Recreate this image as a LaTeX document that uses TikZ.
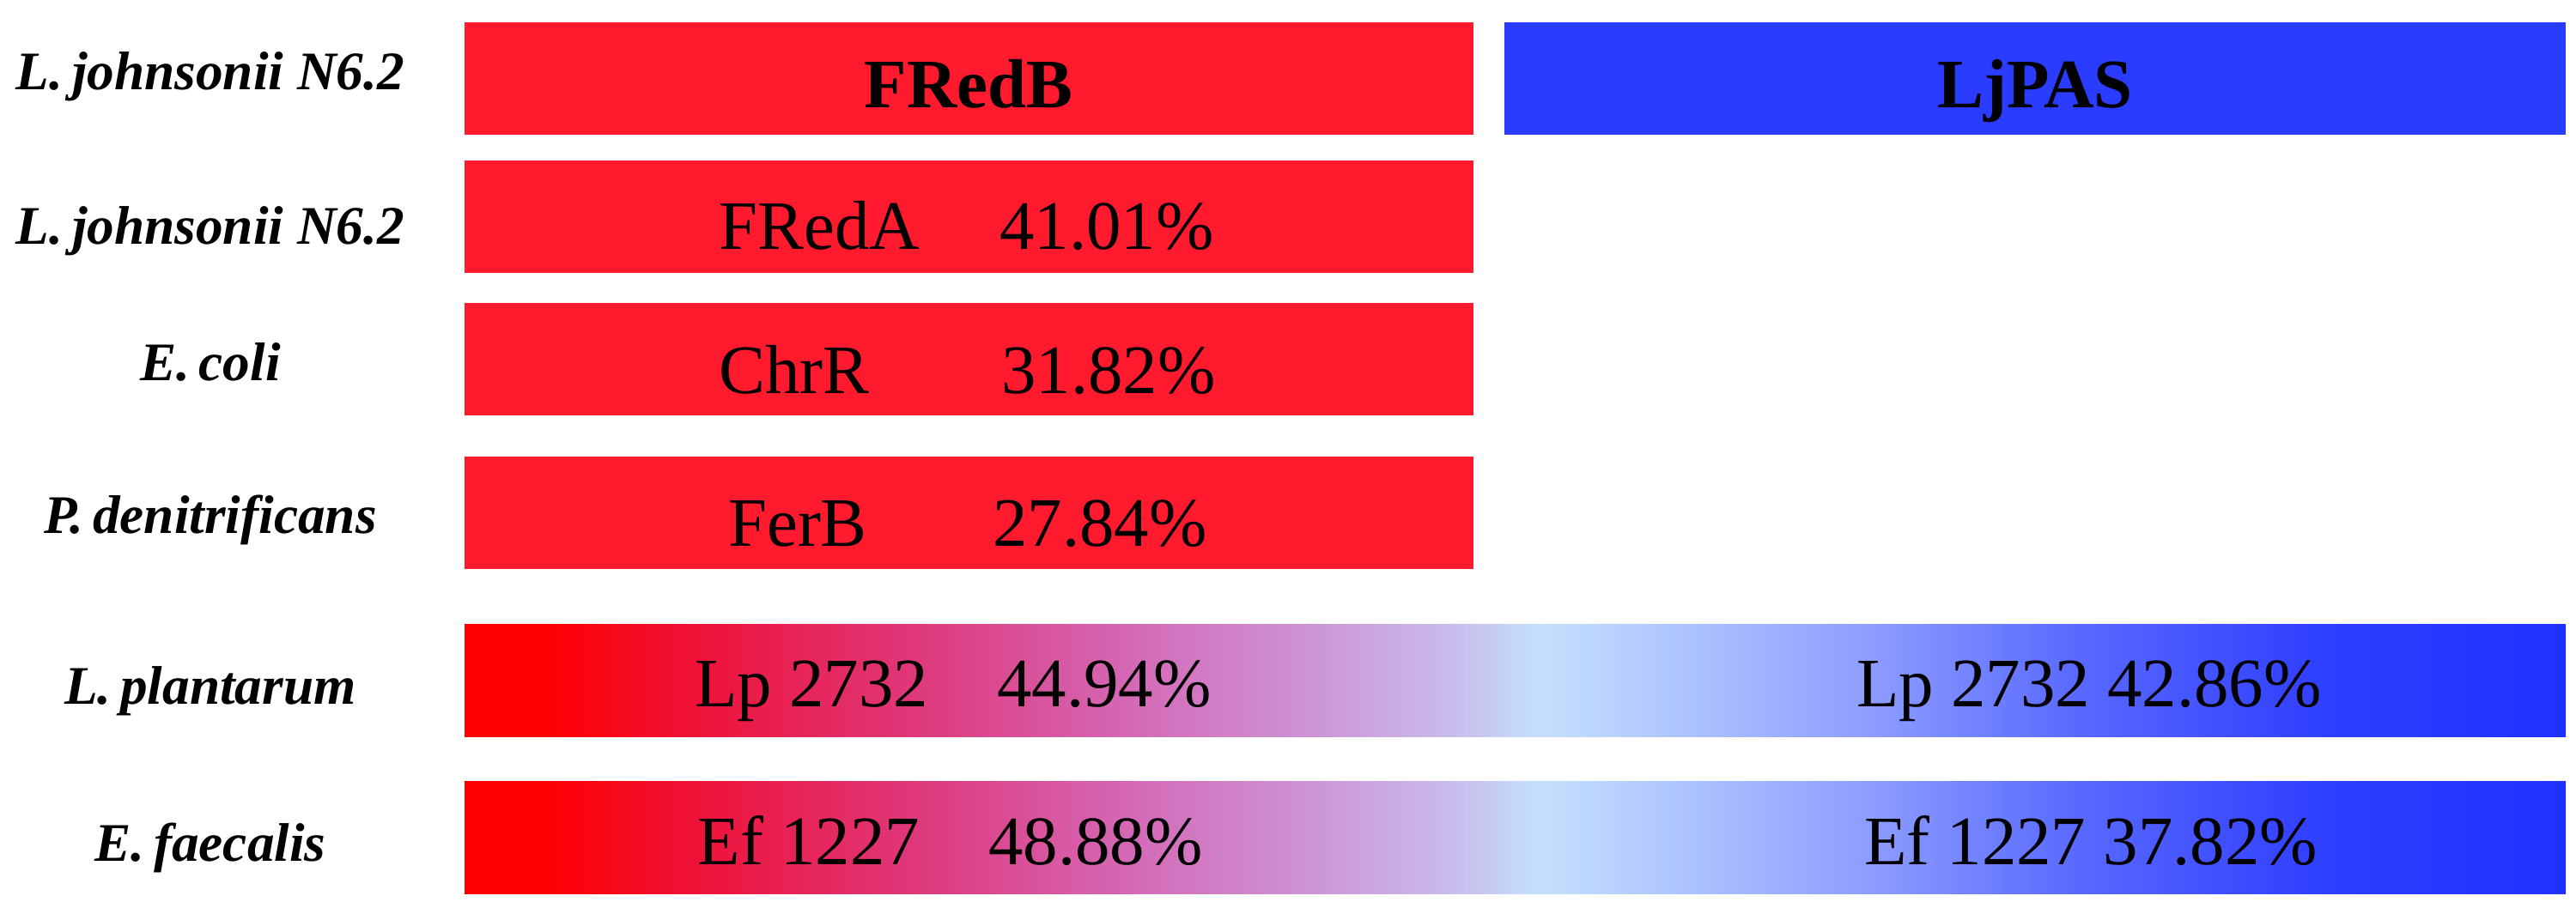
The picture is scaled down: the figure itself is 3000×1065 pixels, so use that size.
\documentclass[tikz,border=0pt]{standalone}
\usepackage{fontspec}
\setmainfont{Liberation Serif}

\definecolor{fredred}{HTML}{FF1A2E}
\definecolor{ljblue}{HTML}{2A3CFF}
\definecolor{gA}{HTML}{FF0000}
\definecolor{gB}{HTML}{EE1238}
\definecolor{gC}{HTML}{DE3A7E}
\definecolor{gD}{HTML}{D46AB8}
\definecolor{gE}{HTML}{CC98D8}
\definecolor{gF}{HTML}{C8BCEC}
\definecolor{gG}{HTML}{C4E0FC}
\definecolor{gH}{HTML}{B0C8FF}
\definecolor{gI}{HTML}{8C9CFF}
\definecolor{gJ}{HTML}{5868FF}
\definecolor{gK}{HTML}{3040FF}
\definecolor{gL}{HTML}{2030FF}

% red -> light blue -> blue, bar mapped onto 25bp..75bp
\pgfdeclarehorizontalshading{redtoblue}{100bp}{color(0bp)=(gA); color(25bp)=(gA);
  color(26.8bp)=(gA); color(30.5bp)=(gB); color(36bp)=(gC); color(41bp)=(gD);
  color(45.5bp)=(gE); color(48.5bp)=(gF); color(50.6bp)=(gG); color(53.5bp)=(gH);
  color(58.5bp)=(gI); color(63.5bp)=(gJ); color(69bp)=(gK); color(75bp)=(gL);
  color(100bp)=(gL)}

\begin{document}
\begin{tikzpicture}[x=0.01cm, y=-0.01cm, inner sep=0pt,
  species/.style={font=\fontsize{18}{20}\selectfont\bfseries\itshape, anchor=base},
  bartext/.style={font=\fontsize{23}{26}\selectfont, anchor=base},
  bartitle/.style={font=\fontsize{23}{26}\selectfont\bfseries, anchor=base}]

\useasboundingbox (0,0) rectangle (3000,1065);

%--- TOP ROW: the two proteins ---
\fill[fredred] (541,26) rectangle (1716,157);
\fill[ljblue] (1752,26) rectangle (2988,157);
\node[bartitle] (fredb) at (1128,126) {FRedB};
\node[bartitle] (ljpas) at (2370,126) {LjPAS};

%--- FRedB homologues ---
\foreach \ytop in {187,353,532}
  \fill[fredred] (541,\ytop) rectangle (1716,\ytop+131);
\node[bartext] (freda) at (954,291) {FRedA};
\node[bartext] (fredapc) at (1289,291) {41.01\%};
\node[bartext] (chrr) at (925,459) {ChrR};
\node[bartext] (chrrpc) at (1291,459) {31.82\%};
\node[bartext] (ferb) at (929,637) {FerB};
\node[bartext] (ferbpc) at (1281,637) {27.84\%};

%--- homologues of both ---
\shade[shading=redtoblue] (541,728) rectangle (2988,859);
\shade[shading=redtoblue] (541,911) rectangle (2988,1042);
\node[bartext] (lpred) at (945,824) {Lp 2732};
\node[bartext] (lpredpc) at (1286,824) {44.94\%};
\node[bartext] (lpblue) at (2433,824) {Lp 2732 42.86\%};
\node[bartext] (efred) at (942,1008) {Ef 1227};
\node[bartext] (efredpc) at (1276,1008) {48.88\%};
\node[bartext] (efblue) at (2435,1008) {Ef 1227 37.82\%};

%--- species ---
\node[species] (sp1) at (245,105) {L.\,johnsonii N6.2};
\node[species] (sp2) at (245,285) {L.\,johnsonii N6.2};
\node[species] (sp3) at (245,444) {E.\,coli};
\node[species] (sp4) at (245,622) {P.\,denitrificans};
\node[species] (sp5) at (245,821) {L.\,plantarum};
\node[species] (sp6) at (245,1004) {E.\,faecalis};

\end{tikzpicture}
\end{document}
